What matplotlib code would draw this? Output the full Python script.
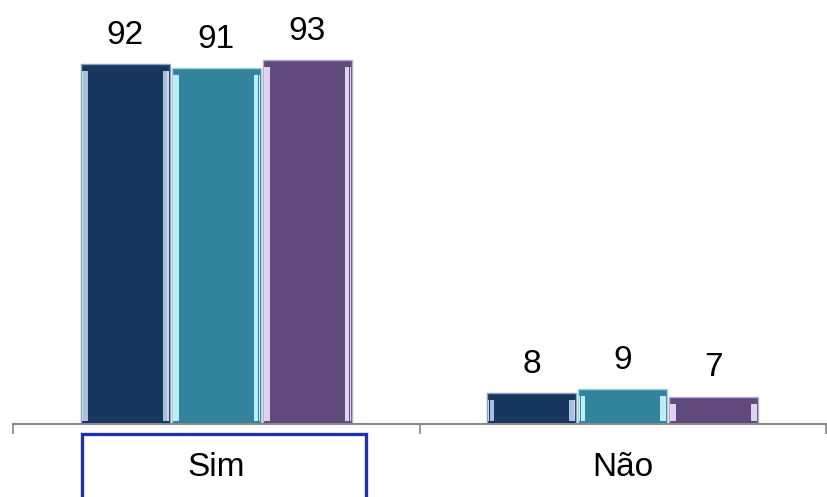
import numpy as np
import matplotlib.pyplot as plt
from matplotlib.patches import Rectangle

categories = ['Sim', 'Não']
serie1 = [92, 8]
serie2 = [91, 9]
serie3 = [93, 7]

cores = ['#17375E', '#31849B', '#604A7B']
brilhos = ['#b9d0ee', '#c8fbff', '#efe0ff']
bordas = ['#8aa0bf', '#9fd0dc', '#b9a8d0']

plt.rcParams['font.family'] = ['Liberation Sans', 'DejaVu Sans']

fig = plt.figure(figsize=(8.27, 4.97), dpi=100)
ax = fig.add_axes([13 / 827, 73 / 497, 813 / 827, 424 / 497])

x = np.arange(len(categories))
largura = 0.218
deslocamentos = [-0.224, 0, 0.224]
px_unidade = 3.91  # pixels per unit on the y scale

for serie, off, cor, brilho, borda in zip([serie1, serie2, serie3], deslocamentos, cores, brilhos, bordas):
    barras = ax.bar(x + off, serie, largura, color=cor, edgecolor=borda, linewidth=1.0, zorder=2)
    # bevel highlights along the inner left and right edges
    faixa = 0.011
    topo = np.array(serie) - 7 / px_unidade
    base = 3 / px_unidade
    ax.bar(x + off - largura / 2 + 0.006 + faixa / 2, topo - base, faixa, bottom=base,
           color=brilho, linewidth=0, zorder=3, alpha=0.9)
    ax.bar(x + off + largura / 2 - 0.006 - faixa / 2, topo - base, faixa, bottom=base,
           color=brilho, linewidth=0, zorder=3, alpha=0.9)
    ax.bar(x + off - largura / 2 + 0.0035, topo - base, 0.003, bottom=base,
           color='white', linewidth=0, zorder=4, alpha=0.8)
    ax.bar(x + off + largura / 2 - 0.0035, topo - base, 0.003, bottom=base,
           color='white', linewidth=0, zorder=4, alpha=0.8)
    for xi, v in zip(x + off, serie):
        ax.annotate(str(v), (xi, v), xytext=(0, 14.5), textcoords='offset points',
                    ha='center', va='baseline', fontsize=24, color='black')

ax.set_xlim(-0.5, 1.5)
ax.set_ylim(0, 424 / px_unidade)

ax.set_xticks([-0.5, 0.5, 1.5])
ax.set_xticklabels([])
ax.set_xticks(x, minor=True)
ax.set_xticklabels(categories, minor=True, fontsize=24)
ax.tick_params(axis='x', which='major', length=7, width=1.2, color='#888888', direction='out')
ax.tick_params(axis='x', which='minor', length=0, pad=20)
ax.set_yticks([])

for lado in ['top', 'right', 'left']:
    ax.spines[lado].set_visible(False)
ax.spines['bottom'].set_color('#888888')
ax.spines['bottom'].set_linewidth(1.5)

# selection frame around the first category label
fig.patches.append(Rectangle((82 / 827, -0.05), 284 / 827, (497 - 434) / 497 + 0.05,
                             transform=fig.transFigure, fill=False,
                             edgecolor='#1F33A6', linewidth=2.4, zorder=5))

fig.savefig('out.png', dpi=100)
